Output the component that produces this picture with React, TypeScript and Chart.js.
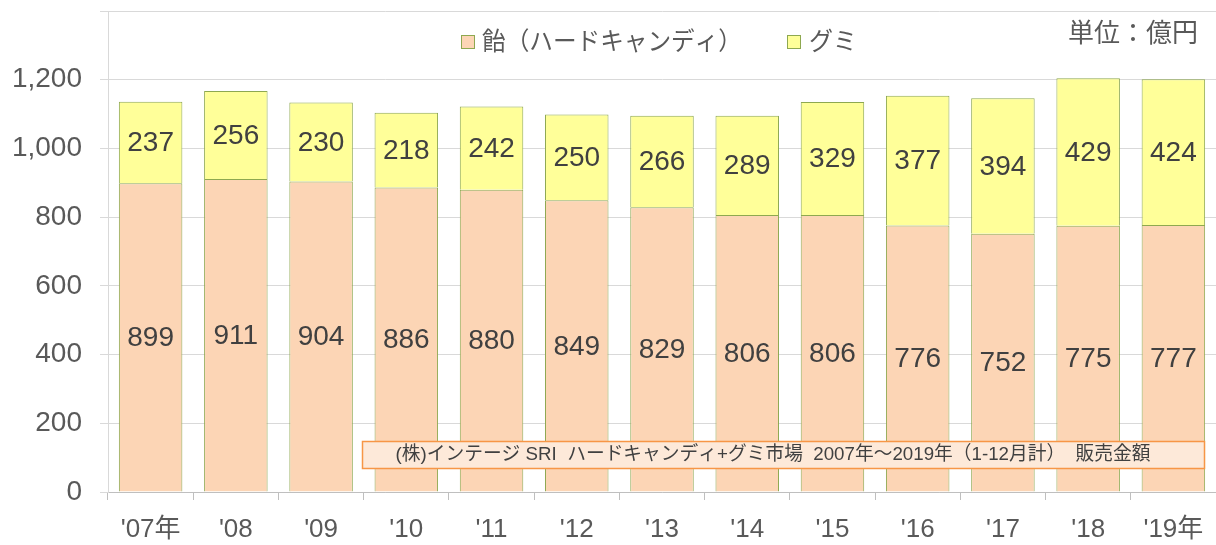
import React, { useEffect, useRef } from "react";
import { Chart, registerables } from "chart.js";

Chart.register(...registerables);

const categories = ["'07年", "'08", "'09", "'10", "'11", "'12", "'13", "'14", "'15", "'16", "'17", "'18", "'19年"];
const hardCandy = [899, 911, 904, 886, 880, 849, 829, 806, 806, 776, 752, 775, 777];
const gummy = [237, 256, 230, 218, 242, 250, 266, 289, 329, 377, 394, 429, 424];
const seriesNames = ["飴（ハードキャンディ）", "グミ"];
const seriesColors = ["#FCD5B5", "#FFFF99"];
const unitLabel = "単位：億円";
const sourceNote = "(株)インテージ SRI  ハードキャンディ+グミ市場  2007年～2019年（1-12月計）  販売金額";

const FONT = '"Liberation Sans", "Noto Sans CJK JP", sans-serif';

const overlay = {
  id: "overlay",
  afterDatasetsDraw(chart: any) {
    const ctx = chart.ctx;
    ctx.save();
    ctx.font = `28px ${FONT}`;
    ctx.fillStyle = "#404040";
    ctx.textAlign = "center";
    ctx.textBaseline = "middle";
    chart.data.datasets.forEach((ds: any, i: number) => {
      const meta = chart.getDatasetMeta(i);
      meta.data.forEach((bar: any, j: number) => {
        const p = bar.getProps(["x", "y", "base"], true);
        ctx.fillText(String(ds.data[j]), p.x, (p.y + p.base) / 2 + 1);
      });
    });
    ctx.restore();
  },
  afterDraw(chart: any) {
    const ctx = chart.ctx;
    ctx.save();
    const drawBox = (x: number, color: string) => {
      ctx.fillStyle = color;
      ctx.fillRect(x, 35, 14, 14);
      ctx.strokeStyle = "#8EA850";
      ctx.lineWidth = 1;
      ctx.strokeRect(x + 0.5, 35.5, 13, 13);
    };
    ctx.font = `25px ${FONT}`;
    ctx.textBaseline = "middle";
    ctx.textAlign = "left";
    drawBox(461, seriesColors[0]);
    ctx.fillStyle = "#595959";
    ctx.fillText(seriesNames[0], 482, 43, 260);
    drawBox(787, seriesColors[1]);
    ctx.fillStyle = "#595959";
    ctx.fillText(seriesNames[1], 809, 43, 48);
    ctx.font = `26px ${FONT}`;
    ctx.fillText(unitLabel, 1068, 35, 134);
    ctx.fillStyle = "#FDE9D9";
    ctx.fillRect(362, 441, 842, 27);
    ctx.strokeStyle = "#F79646";
    ctx.lineWidth = 1.5;
    ctx.strokeRect(362.5, 441.5, 842, 27);
    ctx.fillStyle = "#404040";
    ctx.font = `19px ${FONT}`;
    ctx.textAlign = "center";
    ctx.fillText(sourceNote, 773, 455, 755);
    ctx.restore();
  },
};

export default function App() {
  const ref = useRef<HTMLCanvasElement | null>(null);
  useEffect(() => {
    if (!ref.current) return;
    const chart = new Chart(ref.current, {
      type: "bar",
      data: {
        labels: categories,
        datasets: [
          {
            label: seriesNames[0],
            data: hardCandy,
            backgroundColor: seriesColors[0],
            borderColor: "#8EA850",
            borderWidth: 1,
            categoryPercentage: 1,
            barPercentage: 0.745,
          },
          {
            label: seriesNames[1],
            data: gummy,
            backgroundColor: seriesColors[1],
            borderColor: "#8EA850",
            borderWidth: 1,
            categoryPercentage: 1,
            barPercentage: 0.745,
          },
        ],
      },
      options: {
        responsive: false,
        animation: false,
        devicePixelRatio: 1,
        layout: { padding: { top: 11, right: 0, left: 0, bottom: 0 } },
        plugins: { legend: { display: false }, tooltip: { enabled: false } },
        scales: {
          x: {
            stacked: true,
            grid: { drawOnChartArea: false, tickLength: 8, color: "#BFBFBF" },
            border: { color: "#BFBFBF" },
            ticks: { font: { size: 26, family: FONT }, color: "#595959", padding: 14, maxRotation: 0, autoSkip: false },
            afterFit: (s: any) => {
              s.height = 53;
              s.paddingLeft = 0;
              s.paddingRight = 0;
            },
          },
          y: {
            stacked: true,
            min: 0,
            max: 1400,
            grid: { color: "#D9D9D9", tickLength: 8 },
            border: { color: "#D9D9D9" },
            ticks: {
              stepSize: 200,
              font: { size: 28, family: FONT },
              color: "#595959",
              padding: 18,
              callback: (v: any) => (v === 1400 ? "" : Number(v).toLocaleString("en-US")),
            },
            afterFit: (s: any) => {
              s.width = 108;
              s.paddingTop = 0;
              s.paddingBottom = 0;
            },
          },
        },
      },
      plugins: [overlay],
    });
    return () => chart.destroy();
  }, []);
  return (
    <div style={{ position: "fixed", left: 0, top: 0, width: 1216, height: 545, background: "#fff" }}>
      <canvas ref={ref} width={1216} height={545} style={{ display: "block" }} />
    </div>
  );
}
